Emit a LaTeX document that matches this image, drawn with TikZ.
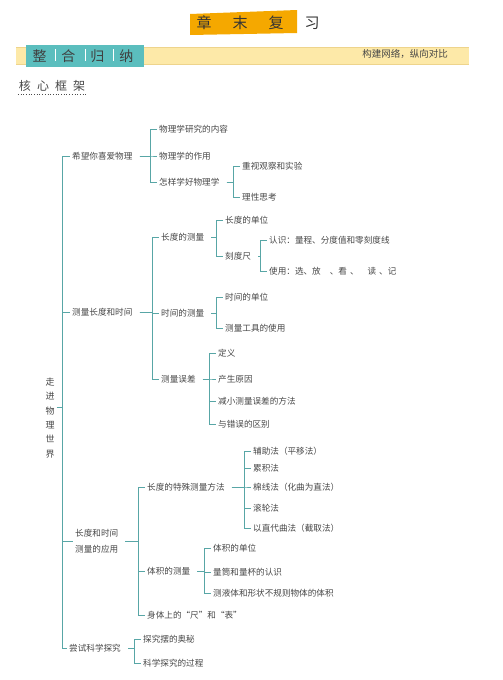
\documentclass[tikz,border=0pt]{standalone}
\usepackage{fontspec}
\setmainfont{Noto Sans CJK SC}
\usetikzlibrary{calc,positioning}
\definecolor{ln}{RGB}{88,166,166}
\definecolor{txt}{RGB}{70,70,70}
\definecolor{bandy}{RGB}{253,233,168}
\definecolor{bandline}{RGB}{238,212,140}
\definecolor{tealbox}{RGB}{91,190,190}
\definecolor{orangebox}{RGB}{245,168,0}

\begin{document}
\begin{tikzpicture}[x=1pt,y=-1pt,
  leaf/.style={anchor=west,inner sep=2pt,text=txt,font=\fontsize{8.6}{10}\selectfont},
  br/.style={draw=ln,line width=0.9pt}]
\useasboundingbox (0,0) rectangle (503,680);

% header
\fill[orangebox] (190,14) -- (297,10) -- (297,33) -- (190,35) -- cycle;
\node[text=black!80,font=\fontsize{15}{16}\selectfont] (title) at (258,23) {章\hspace{21pt}末\hspace{21pt}复\hspace{21pt}习};
\fill[bandy] (16,47) rectangle (469,64);
\draw[bandline,line width=0.6pt] (16,47) -- (469,47) (16,64) -- (469,64);
\fill[tealbox] (26,45) rectangle (144,67);
\node[text=black!75,font=\fontsize{14}{15}\selectfont] (band) at (83,56) {整\hspace{15pt}合\hspace{15pt}归\hspace{15pt}纳};
\draw[white,line width=0.8pt] (55,49) -- (55,61) (85,49) -- (85,61) (113,49) -- (113,61);
\node[text=txt,font=\fontsize{9.5}{10}\selectfont] (motto) at (405,54) {构建网络，纵向对比};
\node[text=txt,font=\fontsize{12}{13}\selectfont,inner sep=1pt] (frame) at (52,86) {核\hspace{6pt}心\hspace{6pt}框\hspace{6pt}架};
\draw[black!70,dotted,line width=0.7pt] ([yshift=-2pt]frame.south west) -- ([yshift=-2pt]frame.south east);

% root
\node[text=txt,font=\fontsize{9}{14.4}\selectfont,align=center,inner sep=2pt] (root) at (50,418) {走\\进\\物\\理\\世\\界};
\coordinate (trunk) at (62,407);

% level 1
\node[leaf] (h1) at (70,156) {希望你喜爱物理};
\node[leaf] (h2) at (70,312) {测量长度和时间};
\node[leaf,align=left,font=\fontsize{8.6}{16}\selectfont] (h3) at (73,541) {长度和时间\\测量的应用};
\node[leaf] (h4) at (67,648) {尝试科学探究};

% level 2
\node[leaf] (a1) at (157,129) {物理学研究的内容};
\node[leaf] (a2) at (157,156) {物理学的作用};
\node[leaf] (a3) at (157,182) {怎样学好物理学};
\node[leaf] (a31) at (240,166) {重视观察和实验};
\node[leaf] (a32) at (240,197) {理性思考};

\node[leaf] (b1) at (159,237) {长度的测量};
\node[leaf] (b2) at (159,313) {时间的测量};
\node[leaf] (b3) at (159,379) {测量误差};
\node[leaf] (b11) at (223,220) {长度的单位};
\node[leaf] (b12) at (223,256) {刻度尺};
\node[leaf] (b121) at (267,240) {认识：量程、分度值和零刻度线};
\node[leaf] (b122) at (267,271) {使用：选、放\hspace{9pt}、看\hspace{3pt}、\hspace{9pt}读\hspace{3pt}、记};
\node[leaf] (b21) at (223,297) {时间的单位};
\node[leaf] (b22) at (223,328) {测量工具的使用};
\node[leaf] (b31) at (216,353) {定义};
\node[leaf] (b32) at (216,379) {产生原因};
\node[leaf] (b33) at (216,401) {减小测量误差的方法};
\node[leaf] (b34) at (216,424) {与错误的区别};

\node[leaf] (c1) at (145,487) {长度的特殊测量方法};
\node[leaf] (c2) at (145,571) {体积的测量};
\node[leaf] (c3) at (145,615) {身体上的“尺”和“表”};
\node[leaf] (c11) at (251,451) {辅助法（平移法）};
\node[leaf] (c12) at (251,468) {累积法};
\node[leaf] (c13) at (251,487) {棉线法（化曲为直法）};
\node[leaf] (c14) at (251,508) {滚轮法};
\node[leaf] (c15) at (251,528) {以直代曲法（截取法）};
\node[leaf] (c21) at (211,548) {体积的单位};
\node[leaf] (c22) at (211,572) {量筒和量杯的认识};
\node[leaf] (c23) at (211,593) {测液体和形状不规则物体的体积};

\node[leaf] (d1) at (141,639) {探究摆的奥秘};
\node[leaf] (d2) at (141,663) {科学探究的过程};

% brackets
\draw[br] (root.east |- trunk) -- (trunk);
\draw[br] (trunk) |- (h1.west);
\draw[br] (trunk) |- (h2.west);
\draw[br] (trunk) |- (h3.west);
\draw[br] (trunk) |- (h4.west);

\draw[br] ([xshift=5pt]h1.east) -| ([xshift=-7pt]a1.west) -- (a1.west);
\draw[br] ([xshift=5pt]h1.east) -| ([xshift=-7pt]a2.west) -- (a2.west);
\draw[br] ([xshift=5pt]h1.east) -| ([xshift=-7pt]a3.west) -- (a3.west);
\draw[br] ([xshift=5pt]a3.east) -| ([xshift=-7pt]a31.west) -- (a31.west);
\draw[br] ([xshift=5pt]a3.east) -| ([xshift=-7pt]a32.west) -- (a32.west);

\draw[br] ([xshift=5pt]h2.east) -| ([xshift=-7pt]b1.west) -- (b1.west);
\draw[br] ([xshift=5pt]h2.east) -| ([xshift=-7pt]b2.west) -- (b2.west);
\draw[br] ([xshift=5pt]h2.east) -| ([xshift=-7pt]b3.west) -- (b3.west);
\draw[br] ([xshift=5pt]b1.east) -| ([xshift=-7pt]b11.west) -- (b11.west);
\draw[br] ([xshift=5pt]b1.east) -| ([xshift=-7pt]b12.west) -- (b12.west);
\draw[br] ([xshift=5pt]b12.east) -| ([xshift=-7pt]b121.west) -- (b121.west);
\draw[br] ([xshift=5pt]b12.east) -| ([xshift=-7pt]b122.west) -- (b122.west);
\draw[br] ([xshift=5pt]b2.east) -| ([xshift=-7pt]b21.west) -- (b21.west);
\draw[br] ([xshift=5pt]b2.east) -| ([xshift=-7pt]b22.west) -- (b22.west);
\draw[br] ([xshift=5pt]b3.east) -| ([xshift=-7pt]b31.west) -- (b31.west);
\draw[br] ([xshift=5pt]b3.east) -| ([xshift=-7pt]b32.west) -- (b32.west);
\draw[br] ([xshift=5pt]b3.east) -| ([xshift=-7pt]b33.west) -- (b33.west);
\draw[br] ([xshift=5pt]b3.east) -| ([xshift=-7pt]b34.west) -- (b34.west);

\draw[br] ([xshift=5pt]h3.east) -| ([xshift=-7pt]c1.west) -- (c1.west);
\draw[br] ([xshift=5pt]h3.east) -| ([xshift=-7pt]c2.west) -- (c2.west);
\draw[br] ([xshift=5pt]h3.east) -| ([xshift=-7pt]c3.west) -- (c3.west);
\draw[br] ([xshift=5pt]c1.east) -| ([xshift=-7pt]c11.west) -- (c11.west);
\draw[br] ([xshift=5pt]c1.east) -| ([xshift=-7pt]c12.west) -- (c12.west);
\draw[br] ([xshift=5pt]c1.east) -| ([xshift=-7pt]c13.west) -- (c13.west);
\draw[br] ([xshift=5pt]c1.east) -| ([xshift=-7pt]c14.west) -- (c14.west);
\draw[br] ([xshift=5pt]c1.east) -| ([xshift=-7pt]c15.west) -- (c15.west);
\draw[br] ([xshift=5pt]c2.east) -| ([xshift=-7pt]c21.west) -- (c21.west);
\draw[br] ([xshift=5pt]c2.east) -| ([xshift=-7pt]c22.west) -- (c22.west);
\draw[br] ([xshift=5pt]c2.east) -| ([xshift=-7pt]c23.west) -- (c23.west);

\draw[br] ([xshift=5pt]h4.east) -| ([xshift=-7pt]d1.west) -- (d1.west);
\draw[br] ([xshift=5pt]h4.east) -| ([xshift=-7pt]d2.west) -- (d2.west);
\end{tikzpicture}
\end{document}
